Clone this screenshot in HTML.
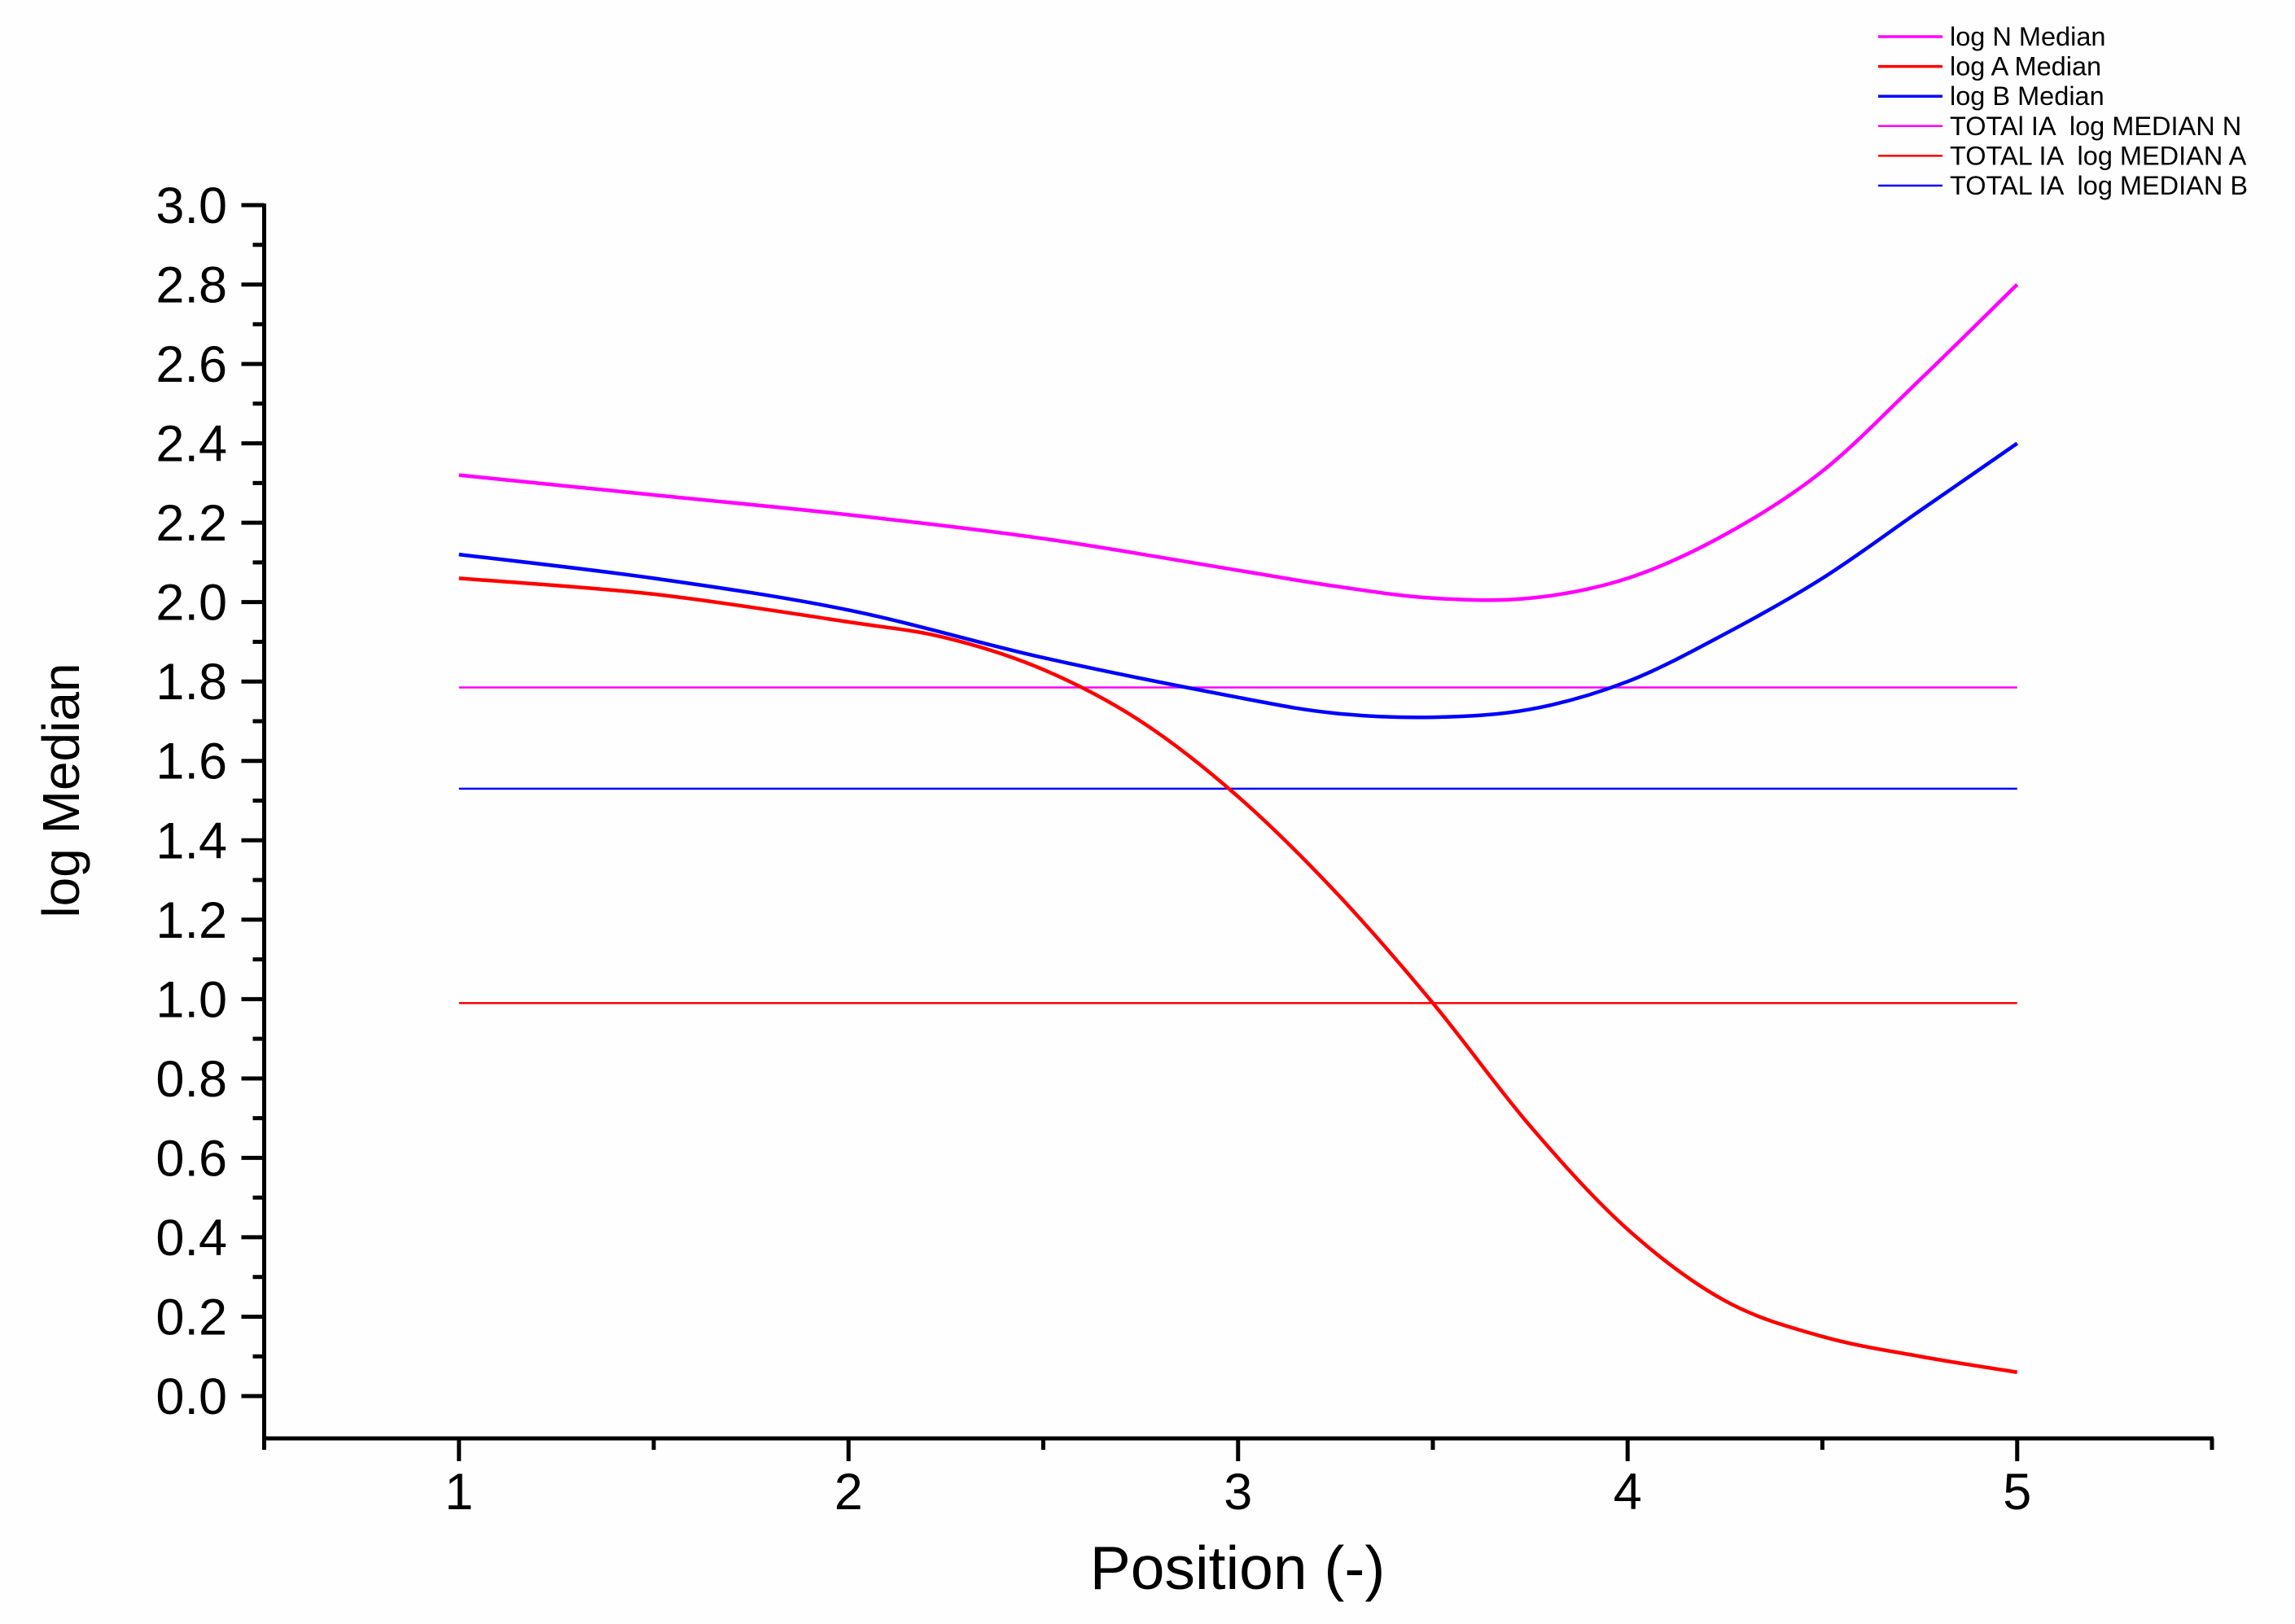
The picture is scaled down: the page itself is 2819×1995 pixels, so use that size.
<!DOCTYPE html>
<html><head><meta charset="utf-8"><style>
html,body{margin:0;padding:0;background:#fefefe;}
svg{display:block;font-family:"Liberation Sans",Arial,sans-serif;}
</style></head><body>
<svg id="chart" width="2819" height="1995" viewBox="0 0 2819 1995" xmlns="http://www.w3.org/2000/svg">
<rect width="2819" height="1995" fill="#fefefe"/>
<g id="plot"></g>
<g id="axes"></g>
<text x="75" y="971" font-size="64" text-anchor="middle" transform="rotate(-90 75 971)" dy="22">log Median</text>
<text x="1520" y="1952" font-size="75" text-anchor="middle">Position (-)</text>
<g id="legend"></g>
</svg>
<script>
const xTicks = [1, 2, 3, 4, 5];
const yTicks = [0.0, 0.2, 0.4, 0.6, 0.8, 1.0, 1.2, 1.4, 1.6, 1.8, 2.0, 2.2, 2.4, 2.6, 2.8, 3.0];
const nX = [1, 1.5, 2, 2.5, 3, 3.25, 3.5, 3.75, 4, 4.25, 4.5, 4.75, 5];
const nY = [2.32, 2.27, 2.22, 2.16, 2.08, 2.04, 2.01, 2.01, 2.06, 2.17, 2.33, 2.56, 2.80];
const bX = [1, 1.5, 2, 2.5, 3, 3.25, 3.5, 3.75, 4, 4.25, 4.5, 4.75, 5];
const bY = [2.12, 2.06, 1.98, 1.86, 1.76, 1.72, 1.71, 1.73, 1.80, 1.92, 2.06, 2.23, 2.40];
const aX = [1, 1.5, 2, 2.25, 2.5, 2.75, 3, 3.25, 3.5, 3.75, 4, 4.25, 4.5, 4.75, 5];
const aY = [2.06, 2.02, 1.95, 1.91, 1.83, 1.70, 1.51, 1.27, 0.99, 0.68, 0.42, 0.24, 0.15, 0.10, 0.06];
const totalN = 1.785;
const totalA = 0.99;
const totalB = 1.53;
const legendLabels = ["log N Median", "log A Median", "log B Median", "TOTAl IA  log MEDIAN N", "TOTAL IA  log MEDIAN A", "TOTAL IA  log MEDIAN B"];
const legendColors = ["#ff00ff", "#ff0000", "#0000ff", "#ff00ff", "#ff0000", "#0000ff"];

const NS = "http://www.w3.org/2000/svg";
const X0 = 324.5, X1 = 2717, XMIN = 0.5, XMAX = 5.5;
const Y0 = 1715, YTOP = 252;
const sx = v => X0 + (v - XMIN) / (XMAX - XMIN) * (X1 - X0);
const sy = v => Y0 - v / 3 * (Y0 - YTOP);
const YBOT = 1767;
function mk(tag, attrs, parent) {
  const e = document.createElementNS(NS, tag);
  for (const k in attrs) e.setAttribute(k, attrs[k]);
  parent.appendChild(e);
  return e;
}
const plot = document.getElementById('plot');
const axes = document.getElementById('axes');
const legend = document.getElementById('legend');

function smooth(xs, ys) {
  const p = xs.map((x, i) => [sx(x), sy(ys[i])]);
  let d = `M${p[0][0]},${p[0][1]}`;
  for (let i = 0; i < p.length - 1; i++) {
    const p0 = p[Math.max(0, i - 1)], p1 = p[i], p2 = p[i + 1], p3 = p[Math.min(p.length - 1, i + 2)];
    const c1 = [p1[0] + (p2[0] - p0[0]) / 6, p1[1] + (p2[1] - p0[1]) / 6];
    const c2 = [p2[0] - (p3[0] - p1[0]) / 6, p2[1] - (p3[1] - p1[1]) / 6];
    d += ` C${c1[0]},${c1[1]} ${c2[0]},${c2[1]} ${p2[0]},${p2[1]}`;
  }
  return d;
}
let el;
el = mk('line', {x1: sx(1), x2: sx(5), y1: sy(totalN), y2: sy(totalN), stroke: '#ff00ff', 'stroke-width': 2.5}, plot);


el = mk('line', {x1: sx(1), x2: sx(5), y1: sy(totalB), y2: sy(totalB), stroke: '#0000ff', 'stroke-width': 2.5}, plot);


el = mk('line', {x1: sx(1), x2: sx(5), y1: sy(totalA), y2: sy(totalA), stroke: '#ff0000', 'stroke-width': 2.5}, plot);


el = mk('path', {d: smooth(nX, nY), fill: 'none', stroke: '#ff00ff', 'stroke-width': 4.5}, plot);


el = mk('path', {d: smooth(bX, bY), fill: 'none', stroke: '#0000ff', 'stroke-width': 4.5}, plot);


el = mk('path', {d: smooth(aX, aY), fill: 'none', stroke: '#ff0000', 'stroke-width': 4.5}, plot);



el = mk('line', {x1: X0, x2: X0, y1: YTOP - 2, y2: YBOT + 2, stroke: '#000', 'stroke-width': 5}, axes);


el = mk('line', {x1: X0 - 2, x2: X1 + 2, y1: YBOT, y2: YBOT, stroke: '#000', 'stroke-width': 5}, axes);


yTicks.forEach((v, i) => {
  const t = mk('line', {x1: X0 - 28, x2: X0, y1: sy(v), y2: sy(v), stroke: '#000', 'stroke-width': 5}, axes);
  
  
  if (i < yTicks.length - 1) {
    const m = mk('line', {x1: X0 - 14, x2: X0, y1: sy(v + 0.1), y2: sy(v + 0.1), stroke: '#000', 'stroke-width': 5}, axes);
    
    
  }
  const l = mk('text', {x: 279, y: sy(v) + 22, 'font-size': 63, 'text-anchor': 'end'}, axes);
  l.textContent = v.toFixed(1);
  
  
});
for (let v = 0.5; v <= 5.51; v += 0.5) {
  const major = xTicks.includes(v);
  const t = mk('line', {x1: sx(v), x2: sx(v), y1: YBOT, y2: YBOT + (major ? 28 : 14), stroke: '#000', 'stroke-width': 5}, axes);
  
  
}
xTicks.forEach(v => {
  const l = mk('text', {x: sx(v), y: 1854, 'font-size': 63, 'text-anchor': 'middle'}, axes);
  l.textContent = String(v);
  
  
});
legendLabels.forEach((lab, i) => {
  const y = 45 + i * 36.6;
  const g = mk('g', {}, legend);
  
  
  mk('line', {x1: 2307, x2: 2386, y1: y, y2: y, stroke: legendColors[i], 'stroke-width': i < 3 ? 3.5 : 2.5}, g);
  const t = mk('text', {x: 2395, y: y + 11, 'font-size': 32.5, 'xml:space': 'preserve', style: 'white-space:pre'}, g);
  t.textContent = lab;
});
</script>
</body></html>
